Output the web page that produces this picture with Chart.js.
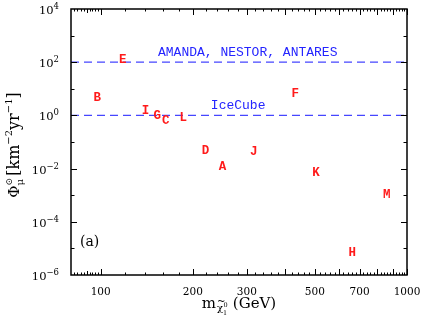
<!DOCTYPE html>
<html>
<head>
<meta charset="utf-8">
<script src="https://cdn.jsdelivr.net/npm/chart.js@4"></script>
<style>
    html, body { margin: 0; padding: 0; background: #fff; }
    #wrap { width: 422px; height: 319px; }
</style>
</head>
<body>
<div id="wrap"><canvas id="chart"></canvas></div>
<script>
// benchmark models (letters) : neutralino mass (GeV) and muon flux
const models = ['A', 'B', 'C', 'D', 'E', 'F', 'G', 'H', 'I', 'J', 'K', 'L', 'M'];
const mass = [250, 97.5, 163, 220, 118, 432, 153, 662, 140, 316, 505, 186, 859];
const flux = [0.0124, 4.9, 0.66, 0.052, 137, 6.9, 1.07, 7.7e-6, 1.65, 0.045, 0.0077, 0.85, 0.00108];

// experimental sensitivities (dashed lines)
const limitNames = ['AMANDA, NESTOR, ANTARES', 'IceCube'];
const limitFlux = [100, 1];
const limitLabelMass = [302, 281];

// axes
const xRange = [80, 1000];
const yRange = [1e-6, 1e4];
const xTickLabels = [100, 200, 300, 500, 700, 1000];
const yTickExps = [-6, -4, -2, 0, 2, 4];

const serif = '"DejaVu Serif", "Liberation Serif", serif';
const mono = '"Liberation Mono", "DejaVu Sans Mono", monospace';

const decorPlugin = {
    id: 'decor',
    afterDatasetsDraw(chart) {
        const ctx = chart.ctx;
        const xs = chart.scales.x, ys = chart.scales.y;

        // letters for the models
        const meta = chart.getDatasetMeta(0);
        ctx.save();
        ctx.fillStyle = '#ff1a1a';
        ctx.font = 'bold 12.5px ' + mono;
        ctx.textAlign = 'center';
        ctx.textBaseline = 'middle';
        meta.data.forEach((pt, i) => {
            ctx.fillText(models[i], pt.x, pt.y + 1);
        });

        // labels of the limit lines
        ctx.fillStyle = '#2424ff';
        ctx.font = '13px ' + mono;
        ctx.textBaseline = 'alphabetic';
        limitNames.forEach((name, i) => {
            const px = xs.getPixelForValue(limitLabelMass[i]);
            const py = ys.getPixelForValue(limitFlux[i]);
            ctx.fillText(name, px, py - 6);
        });
        ctx.restore();
    },
    afterDraw(chart) {
        const ctx = chart.ctx;
        const xs = chart.scales.x, ys = chart.scales.y;
        const a = chart.chartArea;
        ctx.save();
        ctx.strokeStyle = '#000';
        ctx.lineWidth = 1.5;
        ctx.strokeRect(a.left, a.top, a.right - a.left, a.bottom - a.top);

        ctx.lineWidth = 1;
        const xTick = (v, len) => {
            const px = Math.round(xs.getPixelForValue(v)) + 0.5;
            ctx.beginPath();
            ctx.moveTo(px, a.bottom); ctx.lineTo(px, a.bottom - len);
            ctx.moveTo(px, a.top); ctx.lineTo(px, a.top + len);
            ctx.stroke();
        };
        const yTick = (v, len) => {
            const py = Math.round(ys.getPixelForValue(v)) + 0.5;
            ctx.beginPath();
            ctx.moveTo(a.left, py); ctx.lineTo(a.left + len, py);
            ctx.moveTo(a.right, py); ctx.lineTo(a.right - len, py);
            ctx.stroke();
        };
        for (let v = 82; v < 100; v += 2) xTick(v, v === 90 ? 4 : 2.5);
        for (let v = 100; v <= 1000; v += 20) xTick(v, v % 100 === 0 ? 6 : 2.5);
        for (let e = -5; e <= 3; e++) yTick(Math.pow(10, e), e % 2 === 0 ? 6 : 3.5);

        // x tick labels
        ctx.fillStyle = '#000';
        ctx.font = '10.5px ' + serif;
        ctx.textAlign = 'center';
        ctx.textBaseline = 'alphabetic';
        xTickLabels.forEach(v => {
            ctx.fillText(String(v), xs.getPixelForValue(v), a.bottom + 20);
        });

        // y tick labels 10^n
        yTickExps.forEach(e => {
            const py = ys.getPixelForValue(Math.pow(10, e));
            const sup = e < 0 ? '\u2212' + Math.abs(e) : String(e);
            ctx.font = '8.5px ' + serif;
            const wSup = ctx.measureText(sup).width;
            ctx.textAlign = 'right';
            const right = a.left - 12;
            ctx.fillText(sup, right, py);
            ctx.font = '11.5px ' + serif;
            ctx.fillText('10', right - wSup, py + 5);
        });

        // x axis title: m_{chi~_1^0} (GeV)
        ctx.textAlign = 'left';
        const cx = (a.left + a.right) / 2;
        const by = a.bottom + 33;
        ctx.font = '15px ' + serif;
        const wm = ctx.measureText('m').width;
        const wg = ctx.measureText(' (GeV)').width;
        const wsub = 12;
        let x0 = cx - (wm + wsub + wg) / 2;
        ctx.fillText('m', x0, by);
        ctx.font = '10px ' + serif;
        ctx.fillText('\u03C7', x0 + wm + 1, by + 3);
        ctx.fillText('~', x0 + wm + 1, by - 4);
        ctx.font = '6.5px ' + serif;
        ctx.fillText('1', x0 + wm + 7, by + 7);
        ctx.fillText('0', x0 + wm + 7.5, by - 1);
        ctx.font = '15px ' + serif;
        ctx.fillText(' (GeV)', x0 + wm + wsub, by);

        // y axis title: Phi_mu^sun [km^-2 yr^-1]
        ctx.save();
        ctx.translate(19, (a.top + a.bottom) / 2 + 3);
        ctx.rotate(-Math.PI / 2);
        const parts = [
            ['\u03A6', 15, 0], ['\u03BC ', 10, 4],
            ['[km', 16, 0], ['\u2212' + '2', 10, -7], ['yr', 16, 0], ['\u2212' + '1', 10, -7], [']', 16, 0]
        ];
        let total = 0;
        parts.forEach(p => {
            ctx.font = p[1] + 'px ' + serif;
            total += ctx.measureText(p[0]).width;
        });
        let x = -total / 2;
        parts.forEach(p => {
            ctx.font = p[1] + 'px ' + serif;
            ctx.fillText(p[0], x, p[2]);
            if (p[0] === '\u03BC ') {
                ctx.font = '9px ' + serif;
                ctx.fillText('\u2299', x, -7);
            }
            ctx.font = p[1] + 'px ' + serif;
            x += ctx.measureText(p[0]).width;
        });
        ctx.restore();

        // panel label
        ctx.font = '14px ' + serif;
        ctx.textAlign = 'center';
        ctx.fillText('(a)', xs.getPixelForValue(92), ys.getPixelForValue(1.2e-5));
        ctx.restore();
    }
};

const datasets = [{
    label: 'models',
    data: mass.map((m, i) => ({ x: m, y: flux[i] })),
    pointRadius: 0,
    showLine: false
}];
limitFlux.forEach((f, i) => {
    datasets.push({
        label: limitNames[i],
        data: [{ x: xRange[0], y: f }, { x: xRange[1], y: f }],
        showLine: true,
        borderColor: '#4646ff',
        borderWidth: 1.2,
        borderDash: [8, 5],
        pointRadius: 0
    });
});

new Chart(document.getElementById('chart'), {
    type: 'scatter',
    data: { datasets },
    options: {
        responsive: true,
        maintainAspectRatio: false,
        animation: false,
        layout: { padding: { left: 71, right: 15, top: 9, bottom: 44 } },
        plugins: { legend: { display: false }, tooltip: { enabled: false } },
        scales: {
            x: {
                type: 'logarithmic', min: xRange[0], max: xRange[1],
                ticks: { display: false }, grid: { display: false }, border: { display: false },
                afterFit: s => { s.height = 0; }
            },
            y: {
                type: 'logarithmic', min: yRange[0], max: yRange[1],
                ticks: { display: false }, grid: { display: false }, border: { display: false },
                afterFit: s => { s.width = 0; }
            }
        }
    },
    plugins: [decorPlugin]
});
</script>
</body>
</html>
